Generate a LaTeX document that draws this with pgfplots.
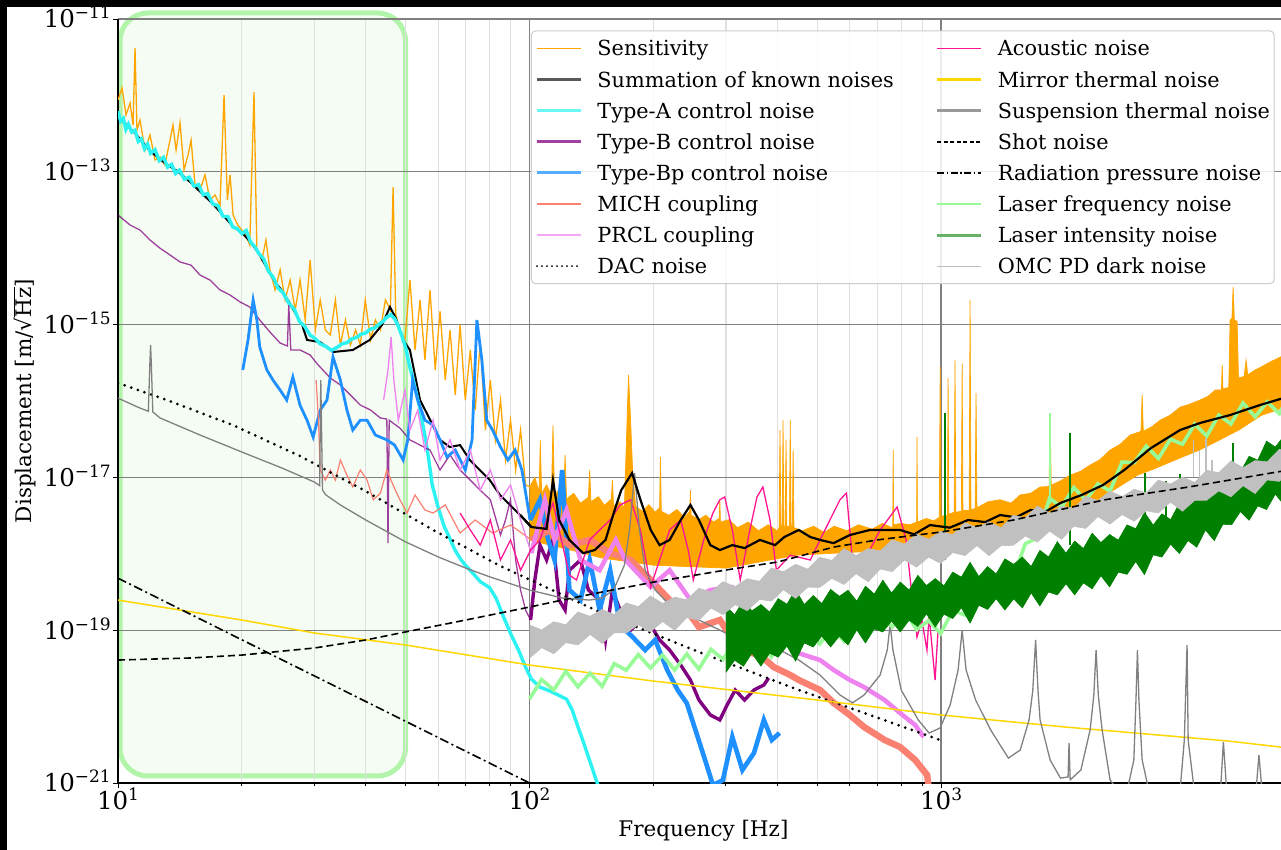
\documentclass[border=0pt]{standalone}
\usepackage{fontspec}
\setmainfont{DejaVu Serif}
\usepackage{pgfplots}
\pgfplotsset{compat=1.18}

\definecolor{sens}{HTML}{FFA500}
\definecolor{typeA}{HTML}{2CF2F2}
\definecolor{typeB}{HTML}{800080}
\definecolor{typeBp}{HTML}{1E90FF}
\definecolor{mich}{HTML}{FA8072}
\definecolor{prcl}{HTML}{EE82EE}
\definecolor{acou}{HTML}{FF1493}
\definecolor{mirror}{HTML}{FFD700}
\definecolor{susp}{HTML}{808080}
\definecolor{lfreq}{HTML}{98FB98}
\definecolor{lint}{HTML}{008000}
\definecolor{omc}{HTML}{C0C0C0}
\definecolor{boxline}{HTML}{B2F5AA}
\definecolor{boxfill}{HTML}{F5FCF3}

% power-of-ten tick labels in the text font
\newcommand{\ts}[1]{10\raisebox{9pt}{\fontsize{17}{17}\selectfont #1}}

\begin{document}
\begin{tikzpicture}
\useasboundingbox (0pt,0pt) rectangle (1281pt,850pt);
\fill[white] (0pt,0pt) rectangle (1281pt,850pt);
% highlighted low-frequency band
\draw[line width=5pt, draw=boxline, fill=boxfill, rounded corners=28pt]
  (120pt,74pt) rectangle (405.5pt,837pt);

\begin{axis}[
  at={(118pt,67pt)}, anchor=south west,
  scale only axis, width=1170.8pt, height=764pt,
  xmode=log, ymode=log,
  xmin=10, xmax=7000, ymin=1e-21, ymax=1e-11,
  axis x line*=bottom, axis y line*=left,
  axis line style={black, line width=1.5pt},
  xtick={10,100,1000},
  xticklabels={\ts{1},\ts{2},\ts{3}},
  ytick={1e-21,1e-19,1e-17,1e-15,1e-13,1e-11},
  yticklabels={\ts{−21},\ts{−19},\ts{−17},\ts{−15},\ts{−13},\ts{−11}},
  yminorticks=false,
  tick align=outside,
  major tick length=5pt, minor tick length=3pt,
  tick style={black, line width=1pt},
  tick label style={font=\fontsize{24.5}{28}\selectfont},
  xticklabel style={anchor=base, inner sep=0pt, yshift=-21pt},
  yticklabel style={anchor=base east, inner sep=0pt, xshift=-2pt, yshift=-8.9pt},
  xmajorgrids, xminorgrids, ymajorgrids,
  major grid style={black!50, line width=1.3pt},
  minor grid style={black!12, line width=1.2pt},
  xlabel={Frequency [Hz]},
  ylabel={Displacement [m/√$\overline{\mbox{Hz}}$]},
  label style={font=\fontsize{21.5}{25}\selectfont},
  xlabel style={at={(axis description cs:0.5,-0.0694)}, anchor=base},
  ylabel style={at={(axis description cs:-0.0743,0.5)}, anchor=base, rotate=0},
  legend columns=2,
  legend cell align=left,
  legend image code/.code={\draw[#1] (0pt,0pt) -- (44pt,0pt);},
  legend style={at={(0.3527,0.985)}, anchor=north west,
    draw=black!20, line width=1pt, fill=white, fill opacity=0.85,
    text opacity=1, draw opacity=1, rounded corners=4pt,
    inner xsep=4pt, inner ysep=8pt,
    font=\fontsize{20.8}{25}\selectfont, row sep=12.1pt,
    nodes={inner sep=0pt, text height=17pt, text depth=2pt},
    /tikz/every odd column/.append style={column sep=15pt},
    /tikz/every even column/.append style={column sep=42pt}},
]

% ---- legend (row by row, two columns) ----
\addlegendimage{sens, line width=1.6pt}\addlegendentry{Sensitivity}
\addlegendimage{acou, line width=1.6pt}\addlegendentry{Acoustic noise}
\addlegendimage{black!65, line width=3pt}\addlegendentry{Summation of known noises}
\addlegendimage{mirror, line width=3pt}\addlegendentry{Mirror thermal noise}
\addlegendimage{typeA!70!white, line width=3pt}\addlegendentry{Type-A control noise}
\addlegendimage{black!40, line width=3pt}\addlegendentry{Suspension thermal noise}
\addlegendimage{typeB!75!white, line width=3pt}\addlegendentry{Type-B control noise}
\addlegendimage{black, line width=1.5pt, dash pattern=on 4pt off 2.5pt}\addlegendentry{Shot noise}
\addlegendimage{typeBp!75!white, line width=3pt}\addlegendentry{Type-Bp control noise}
\addlegendimage{black, line width=1.5pt, dash pattern=on 7pt off 2.5pt on 1.5pt off 2.5pt}\addlegendentry{Radiation pressure noise}
\addlegendimage{mich, line width=1.6pt}\addlegendentry{MICH coupling}
\addlegendimage{lfreq, line width=2pt}\addlegendentry{Laser frequency noise}
\addlegendimage{prcl!70!white, line width=2.2pt}\addlegendentry{PRCL coupling}
\addlegendimage{lint!60!white, line width=3pt}\addlegendentry{Laser intensity noise}
\addlegendimage{black, line width=2pt, line cap=round, dash pattern=on 0pt off 5pt}\addlegendentry{DAC noise}
\addlegendimage{omc, line width=1.2pt}\addlegendentry{OMC PD dark noise}

% ---- sensitivity, below 100 Hz ----
\addplot[sens, line width=1.3pt, forget plot] coordinates {
(10,8.7e-13)(10.23,1.25e-12)(10.46,5.55e-13)(10.7,7.95e-13)(10.88,4.1e-13)(11.0,4.17e-12)(11.12,3.52e-13)(11.31,4.76e-13)(11.63,1.93e-13)(11.96,3.03e-13)(12.3,1.43e-13)(12.65,1.56e-13)(13.0,1.23e-13)(13.38,2.6e-13)(13.6,4.1e-13)(13.84,1.93e-13)(14.15,4.36e-13)(14.47,1.06e-13)(14.8,1.66e-13)(15.05,2.6e-13)(15.39,6.7e-14)(15.82,5.77e-14)(16.27,9.1e-14)(16.73,4.28e-14)(17.21,4.97e-14)(17.7,3.67e-14)(18.1,1.01e-12)(18.44,4.28e-14)(18.72,9.1e-14)(19.04,2.72e-14)(19.55,2.01e-14)(20.0,1.73e-14)(20.46,1.49e-14)(20.9,1.1e-14)(21.4,1.1e-12)(21.75,9.5e-15)(22.37,7.0e-15)(22.88,1.28e-14)(23.4,5.2e-15)(24.08,2.84e-15)(24.77,5.2e-15)(25.47,2.1e-15)(26.2,3.83e-15)(26.95,1.55e-15)(27.7,3.83e-15)(28.5,1.15e-15)(29.3,7.0e-15)(30.17,8.5e-16)(31.0,2.1e-15)(31.9,8.5e-16)(32.8,7.3e-16)(33.75,2.1e-15)(34.7,5.4e-16)(35.7,1.15e-15)(36.7,5.4e-16)(37.8,8.5e-16)(38.8,5.4e-16)(39.9,2.1e-15)(41.1,6.3e-16)(42.2,1.15e-15)(43.4,8.5e-16)(44.65,2.1e-15)(45.9,1.55e-15)(46.6,6.3e-14)(47.3,1.34e-15)(48.4,8.5e-16)(49.8,6.3e-16)(51.2,3.83e-15)(52.7,4.65e-16)(54.2,2.1e-15)(55.7,3.44e-16)(57.3,2.84e-15)(59.0,2.55e-16)(60.6,1.5e-15)(62.4,1.88e-16)(64.1,8.5e-16)(66.0,1.2e-16)(67.8,1.0e-15)(69.8,1.03e-16)(71.8,4.65e-16)(73.8,7.6e-17)(75.9,6.0e-16)(78.1,4.17e-17)(80.3,1.88e-16)(82.6,3.1e-17)(85.0,1.03e-16)(87.4,1.69e-17)(89.9,5.6e-17)(92.5,1.25e-17)(95.1,4.17e-17)(97.8,7.95e-18)(100.6,7.5e-18)};

% ---- sensitivity, above 100 Hz (dense spectrum as a band) ----
\addplot[fill=sens, draw=sens, line width=0.7pt, forget plot] coordinates {
(100,7.5e-18)(103,1.0e-17)(105.5,6.5e-18)(106.2,3.1e-17)(107,6.2e-18)(110,8e-18)(113,5.8e-18)(114,4.8e-17)(115,5.8e-18)(118,7e-18)(121,5.2e-18)(122,1.97e-17)(123,5.2e-18)(128,6.2e-18)(133,4.6e-18)(139,5.5e-18)(140,1.25e-17)(141,4.8e-18)(147,5.6e-18)(152,4.3e-18)(158,5.2e-18)(159,9.2e-18)(160,4.2e-18)(166,4.8e-18)(170,4.0e-18)(172,3.1e-17)(174,2.2e-16)(176,5.6e-17)(178,1.25e-17)(181,4.2e-18)(188,3.6e-18)(195,4.4e-18)(202,3.5e-18)(207,4.0e-18)(208,1.85e-17)(209,3.6e-18)(218,3.2e-18)(228,3.8e-18)(238,3.0e-18)(245,3.6e-18)(246,6.8e-18)(247,3.2e-18)(258,2.8e-18)(268,3.2e-18)(280,2.6e-18)(289,2.9e-18)(290,5.1e-18)(291,2.6e-18)(305,2.8e-18)(320,2.2e-18)(340,2.6e-18)(360,2.0e-18)(380,2.4e-18)(400,2.0e-18)(404,2.2e-18)(406,4.2e-17)(408,2.4e-18)(411,2.3e-18)(413,5.6e-17)(415,2.3e-18)(418,2.3e-18)(420,3.1e-17)(422,2.3e-18)(428,2.3e-18)(430,5.6e-17)(432,2.3e-18)(435,2.3e-18)(437,2.3e-17)(439,2.2e-18)(460,2.0e-18)(490,2.3e-18)(520,1.9e-18)(550,2.3e-18)(590,2.0e-18)(630,2.4e-18)(680,2.1e-18)(720,2.5e-18)(760,2.2e-18)(763,2.2e-18)(765,2.3e-17)(767,2.4e-18)(800,2.5e-18)(840,2.4e-18)(872,2.6e-18)(874,3.4e-17)(876,2.6e-18)(920,2.9e-18)(960,2.7e-18)(990,3.0e-18)(995,2.8e-16)(1000,3.1e-18)(1036,3.2e-18)(1040,2.0e-16)(1044,3.3e-18)(1076,3.5e-18)(1081,3.4e-16)(1086,3.5e-18)(1120,3.6e-18)(1125,3.1e-16)(1130,3.7e-18)(1170,3.7e-18)(1176,2.1e-15)(1182,3.8e-18)(1210,3.9e-18)(1216,1.27e-16)(1222,4.0e-18)(1300,4.8e-18)(1391,5.1e-18)(1480,4.6e-18)(1556,5.9e-18)(1650,6.2e-18)(1740,7.5e-18)(1830,7.6e-18)(1841,6.95e-17)(1852,7.9e-18)(1950,9e-18)(2059,1.07e-17)(2180,1.2e-17)(2302,1.45e-17)(2430,1.7e-17)(2574,2.28e-17)(2720,2.7e-17)(2880,3.59e-17)(3060,4.0e-17)(3080,1.2e-16)(3100,4.0e-17)(3250,4.6e-17)(3406,5.6e-17)(3600,6.5e-17)(3809,8.3e-17)(4000,9e-17)(4260,1.03e-16)(4450,1.15e-16)(4634,1.39e-16)(4800,1.4e-16)(4819,2.96e-16)(4840,1.45e-16)(5000,1.5e-16)(5038,1.15e-15)(5090,1.2e-15)(5124,3.1e-15)(5160,1.15e-15)(5240,1.1e-15)(5280,2.0e-16)(5450,2.1e-16)(5510,3.44e-16)(5560,2.2e-16)(5796,2.55e-16)(6000,2.8e-16)(6304,3.24e-16)(6700,3.8e-16)(7048,4.38e-16)
(7048,8.9e-17)(6500,7.5e-17)(6000,6.5e-17)(5300,4.2e-17)(4700,3.0e-17)(4260,2.3e-17)(3809,1.8e-17)(3300,1.3e-17)(3000,1.07e-17)(2700,7.5e-18)(2302,4.4e-18)(2059,2.4e-18)(1740,1.9e-18)(1391,1.6e-18)(1000,1.3e-18)(636,1.06e-18)(446,9.6e-19)(300,6.5e-19)(200,7.1e-19)(150,8.8e-19)(120,1.2e-18)(100,1.5e-18)};

% ---- summation of known noises, low frequencies ----
\addplot[black, line width=2pt, forget plot] coordinates {
(10,5.3e-13)(11,3.2e-13)(12,1.85e-13)(13,1.3e-13)(14,1.0e-13)(15,7.3e-14)(16,5.2e-14)(17,3.8e-14)(18,2.7e-14)(19,1.95e-14)(20,1.6e-14)(21,1.2e-14)(22,8.5e-15)(23,5.5e-15)(24,3.7e-15)(25,2.8e-15)(26,2.0e-15)(27,1.4e-15)(28,1.0e-15)(28.8,6.3e-16)(31,5.9e-16)(33.3,4.38e-16)(37.2,4.65e-16)(40.9,6.3e-16)(43.8,9.9e-16)(45.8,1.7e-15)(47.3,1.22e-15)(49.3,6.3e-16)(51.2,4.65e-16)(54.2,1.03e-16)(57.4,5.6e-17)(60.6,3.1e-17)(64,2.5e-17)(67.8,2.65e-17)(71.6,1.69e-17)(75.7,1.25e-17)(80.1,9.2e-18)(84.7,5.9e-18)(89.6,4.36e-18)(94.8,3.22e-18)(101,2.24e-18)};

% ---- Type-A control noise ----
\addplot[typeA, line width=3.4pt, forget plot] coordinates {
(10,6.2e-13)(10.15,4.6e-13)(10.3,5.0e-13)(10.45,3.6e-13)(10.6,4.2e-13)(10.8,3.3e-13)(11.0,3.5e-13)(11.2,2.5e-13)(11.4,2.7e-13)(11.6,2.0e-13)(11.8,2.3e-13)(12.0,1.75e-13)(12.3,1.95e-13)(12.6,1.4e-13)(12.9,1.55e-13)(13.2,1.15e-13)(13.5,1.25e-13)(13.8,9.5e-14)(14.1,1.05e-13)(14.5,8e-14)(14.9,8.5e-14)(15.3,6.5e-14)(15.7,6.8e-14)(16.1,5e-14)(16.5,5.2e-14)(17.0,3.8e-14)(17.5,3.6e-14)(18.0,2.6e-14)(18.5,2.6e-14)(19.0,1.9e-14)(19.5,1.8e-14)(20.0,1.55e-14)(20.5,1.7e-14)(21.0,1.2e-14)(21.5,1.05e-14)(22.0,8.5e-15)(22.6,7.2e-15)(23.2,5e-15)(23.8,4.2e-15)(24.5,3.0e-15)(25.2,2.6e-15)(26.0,1.9e-15)(26.8,1.6e-15)(27.6,1.1e-15)(28.4,9.5e-16)(29.3,7.3e-16)(30.2,6.5e-16)(31.0,5.6e-16)(32,5.2e-16)(33,4.6e-16)(34,5.0e-16)(35,5.6e-16)(36,5.8e-16)(37,6.5e-16)(38,6.8e-16)(39,7.5e-16)(40,7.8e-16)(41,8.7e-16)(42,9.0e-16)(43,1.0e-15)(44,1.1e-15)(45,1.25e-15)(46,1.35e-15)(47,1.2e-15)(48,9.5e-16)(49,7e-16)(50,5e-16)(51,3e-16)(52,2e-16)(53,1.3e-16)(54,8.5e-17)(55,5e-17)(56,3e-17)(57,1.6e-17)(58,8e-18)(60,4e-18)(62,2.3e-18)(64,1.6e-18)(66,1.1e-18)(68,8.5e-19)(70,7e-19)(73,5.5e-19)(76,4.3e-19)(80,3.6e-19)(83,2.6e-19)(86,1.6e-19)(90,9e-20)(94,5.5e-20)(98,3.2e-20)(101,2.3e-20)(106,1.8e-20)(112,1.6e-20)(118,1.4e-20)(123,1.25e-20)(127,9e-21)(131,5.5e-21)(135,3.5e-21)(139,2.2e-21)(143,1.4e-21)(147,9e-22)(151,6e-22)};

% ---- Type-B control noise ----
\addplot[typeB, opacity=0.75, line width=1.3pt, forget plot] coordinates {
(10,2.72e-14)(10.7,2.01e-14)(11.31,1.73e-14)(11.96,1.28e-14)(12.65,1.0e-14)(13.38,8.15e-15)(14.15,6.6e-15)(15.05,6.0e-15)(15.82,4.46e-15)(16.73,3.83e-15)(17.7,2.84e-15)(18.72,2.44e-15)(19.8,1.98e-15)(20.9,1.7e-15)(22.1,1.15e-15)(23.4,8e-16)(24.77,5.74e-16)(25.8,5.25e-16)(26.0,1.8e-15)(26.3,4.65e-16)(27.7,4.65e-16)(29.3,4.0e-16)(30.5,3.05e-16)(32.8,2.0e-16)(34.7,1.62e-16)(36.7,1.2e-16)(38.8,8.86e-17)(41.1,7.6e-17)(43.4,6e-17)(45.0,5.8e-17)(45.3,1.38e-18)(45.6,5.6e-17)(48.4,4.43e-17)(51.2,3.1e-17)(54.2,2.65e-17)(57.3,2.28e-17)(60.6,1.25e-17)(64.1,1.97e-17)(67.8,1.25e-17)(71.8,9.2e-18)(75.9,6.8e-18)(80.3,5.1e-18)(85,1.76e-18)(87.4,2.77e-18)(89.9,5.1e-18)(92.5,8.3e-19)(95.1,3.36e-19)(97.8,1.84e-19)(100.6,1.36e-19)};
\addplot[typeB, line width=3.4pt, forget plot] coordinates {
(100.6,1.36e-19)(103,4.54e-19)(106,1.3e-18)(110,8.3e-19)(114,1.52e-18)(118,2.48e-19)(122,1.84e-19)(125,6.1e-19)(133,8.3e-19)(139,3.36e-19)(148,2.48e-19)(153,7.45e-20)(159,3.36e-19)(166,1.84e-19)(176,1.0e-19)(186,1.36e-19)(197,1.17e-19)(207,7.45e-20)(219,5.5e-20)(233,3.5e-20)(246,2.23e-20)(258,1.22e-20)(275,7.77e-21)(290,6.7e-21)(302,1.05e-20)(316,1.65e-20)(333,1.22e-20)(351,1.65e-20)(371,1.92e-20)(381,2.37e-20)};

% ---- Type-Bp control noise ----
\addplot[typeBp, line width=2.8pt, forget plot] coordinates {
(20.1,2.55e-16)(20.7,6.3e-16)(21.3,2.1e-15)(21.75,1.15e-15)(22.1,5.1e-16)(23.0,2.55e-16)(23.8,1.88e-16)(24.77,1.39e-16)(25.7,1.03e-16)(26.6,2.06e-16)(27.7,8.76e-17)(28.8,5.6e-17)(29.8,3.38e-17)(31.0,7.6e-17)(32.2,1.03e-16)(33.3,3.77e-16)(34.7,1.88e-16)(36.0,7.6e-17)(37.2,4.17e-17)(38.8,5.6e-17)(40.3,5.6e-17)(42.2,3.59e-17)(45.0,3.1e-17)(47.0,2.65e-17)(49.3,1.69e-17)(50.6,3.1e-17)(52.0,1.88e-16)(53.5,1.03e-16)(55.7,5.6e-17)(58.3,4.85e-17)(60.6,3.1e-17)(63.0,1.85e-17)(66.0,2.28e-17)(69.8,1.25e-17)(72.5,3.1e-17)(74.5,1.15e-15)(76.6,3.44e-16)(78.7,5.6e-17)(81.3,4.17e-17)(85.0,2.5e-17)(88.6,1.69e-17)(92.2,2.28e-17)(95.8,1.25e-17)(100.3,2.77e-18)};
\addplot[typeBp, line width=4.6pt, forget plot] coordinates {
(100.3,2.77e-18)(106,5.1e-18)(111,1.52e-18)(115,8.3e-19)(120,1.25e-17)(125,3.36e-19)(133,2.48e-19)(140,8.3e-19)(148,1.84e-19)(157,6.1e-19)(166,1.17e-19)(178,8.15e-20)(191,5.5e-20)(202,7.45e-20)(216,3.02e-20)(229,1.65e-20)(241,1.11e-20)(253,4.94e-21)(267,2.0e-21)(279,9.4e-22)(295,1.09e-21)(311,4.0e-21)(329,1.48e-21)(351,2.47e-21)(371,6.7e-21)(388,3.66e-21)(405,4.51e-21)};

% ---- MICH coupling ----
\addplot[mich, line width=1.2pt, forget plot] coordinates {
(30.3,1.88e-16)(30.7,5.6e-17)(31.0,1.25e-17)(31.9,9.2e-18)(32.8,1.25e-17)(33.75,9.2e-18)(34.7,1.69e-17)(36.0,1.07e-17)(37.2,7.5e-18)(38.8,1.25e-17)(40.3,9.2e-18)(41.7,5.1e-18)(43.4,6.2e-18)(45.0,1.25e-17)(46.6,7.95e-18)(48.4,5.1e-18)(50.4,3.42e-18)(52.7,5.9e-18)(55.7,3.74e-18)(58.3,3.42e-18)(62.4,4.36e-18)(67.8,1.87e-18)(73.8,2.77e-18)(81.3,1.87e-18)(89.9,2.38e-18)(101,1.52e-18)};
\addplot[mich, line width=6.5pt, forget plot] coordinates {
(101,1.52e-18)(112,2.05e-18)(125,1.3e-18)(140,1.52e-18)(157,1.02e-18)(176,8.3e-19)(197,4.54e-19)(219,2.48e-19)(246,1.57e-19)(258,1.1e-19)(290,1.36e-19)(325,5.5e-20)(363,4.73e-20)(392,3.3e-20)(430,2.59e-20)(451,2.23e-20)(508,1.65e-20)(548,1.12e-20)(600,7.77e-21)(650,5.41e-21)(729,3.66e-21)(795,2.96e-21)(865,2.0e-21)(925,1.27e-21)(935,8e-22)};

% ---- PRCL coupling ----
\addplot[prcl, line width=1.3pt, forget plot] coordinates {
(44.2,1.03e-16)(45.3,2.55e-16)(46.1,6.88e-16)(46.8,1.88e-16)(48.0,5.6e-17)(49.8,1.39e-16)(51.2,4.17e-17)(53.5,7.6e-17)(55.7,2.28e-17)(58.3,5.6e-17)(60.6,1.69e-17)(64.1,3.1e-17)(67.8,1.25e-17)(71.8,2.28e-17)(75.9,6.8e-18)(80.3,1.25e-17)(85,5.1e-18)(89.9,7.95e-18)(95.1,2.77e-18)(101,1.02e-18)};
\addplot[prcl, line width=4.5pt, forget plot] coordinates {
(101,1.02e-18)(109,5.1e-18)(115,1.52e-18)(123,3.74e-18)(133,8.3e-19)(148,6.1e-19)(162,1.52e-18)(171,8.3e-19)(197,3.67e-19)(219,6.1e-19)(246,2.48e-19)(275,3.36e-19)(311,3.67e-19)(346,1.36e-19)(384,7.45e-20)(430,8.7e-20)(451,5.0e-20)(508,4.07e-20)(548,3.02e-20)(600,2.23e-20)(650,1.8e-20)(729,1.22e-20)(795,8.25e-21)(865,5.74e-21)(907,4.0e-21)};

% ---- DAC noise ----
\addplot[black, line width=3pt, line cap=round, dash pattern=on 0pt off 7pt, forget plot] coordinates {
(10,1.72e-16)(13.15,1.03e-16)(19.0,4.85e-17)(27.7,1.9e-17)(40.3,6.45e-18)(58.3,2.05e-18)(85,6.9e-19)(148,1.73e-19)(258,5.18e-20)(451,1.65e-20)(672,7.77e-21)(994,3.66e-21)};

% ---- acoustic noise ----
\addplot[acou, line width=1.3pt, forget plot] coordinates {
(67.8,3.42e-18)(71.8,2.05e-18)(75.9,1.3e-18)(80.3,2.77e-18)(85,8.3e-19)(89.9,1.52e-18)(95.1,6.1e-19)(100.6,1.12e-18)(106,1.52e-18)(110,2.77e-18)(114,4.63e-18)(118,2.05e-18)(125,5.28e-19)(130,4.54e-19)(140,1.52e-18)(148,2.05e-18)(157,2.77e-18)(166,4.36e-18)(176,5.1e-18)(186,2.05e-18)(197,3.67e-19)(207,8.3e-19)(219,2.05e-18)(233,2.77e-18)(243,1.12e-18)(250,4.54e-19)(265,1.52e-18)(279,3.42e-18)(290,5.1e-18)(298,5.54e-18)(311,2.05e-18)(325,4.54e-19)(343,2.05e-18)(357,5.54e-18)(369,7.5e-18)(384,2.77e-18)(398,6.1e-19)(430,9.6e-19)(481,8.3e-19)(522,2.05e-18)(568,5.1e-18)(589,6.25e-18)(609,8.3e-19)(652,8.3e-19)(711,2.05e-18)(782,4.1e-18)(822,1.52e-18)(852,2.48e-19)(874,8.15e-20)(898,1.36e-19)(924,5.5e-20)(935,1.57e-19)(967,2.23e-20)(983,1.0e-19)};

% ---- mirror thermal noise ----
\addplot[mirror, line width=1.5pt, forget plot] coordinates {
(10,2.48e-19)(20,1.36e-19)(30,9.2e-20)(50,6.4e-20)(100,3.5e-20)(200,2.16e-20)(500,1.22e-20)(1000,7.77e-21)(2000,5.41e-21)(5000,3.54e-21)(7000,2.87e-21)};

% ---- suspension thermal noise ----
\addplot[susp, line width=1.3pt, forget plot] coordinates {
(10,1.09e-16)(11.3,8.1e-17)(11.85,7.35e-17)(11.95,3e-16)(12.0,5.41e-16)(12.05,3e-16)(12.15,7.2e-17)(12.65,6.0e-17)(15.82,3.59e-17)(20,2.15e-17)(25,1.33e-17)(30,8.7e-18)(30.9,7.8e-18)(31.1,1.88e-16)(31.4,6.8e-18)(32,5.9e-18)(34.7,4.36e-18)(40,2.77e-18)(50,1.43e-18)(60,9.1e-19)(70,6.5e-19)(80,5e-19)(100,3.36e-19)(120,2.64e-19)(140,2.48e-19)(150,2.64e-19)(160,3.36e-19)(170,7.1e-19)(175,2.05e-18)(180,1.14e-17)(185,2.05e-18)(191,6.1e-19)(202,3.36e-19)(219,2.14e-19)(258,1.36e-19)(325,7.45e-20)(406,5.5e-20)(451,4.07e-20)(508,2.59e-20)(568,1.42e-20)(609,1.12e-20)(650,1.42e-20)(711,2.59e-20)(740,5.5e-20)(752,1.2e-19)(764,5.5e-20)(800,1.65e-20)(880,6.7e-21)(935,4.51e-21)(994,5.25e-21)(1052,1.05e-20)(1100,3.02e-20)(1125,1.0e-19)(1150,3.02e-20)(1213,1.22e-20)(1320,4.94e-21)(1457,2.12e-21)(1557,2.7e-21)(1636,6.7e-21)(1670,1.6e-20)(1697,7.45e-20)(1720,1.6e-20)(1740,6.7e-21)(1841,2.0e-21)(1950,1.16e-21)(2035,1.2e-21)(2046,3.34e-21)(2059,1.1e-21)(2186,1.48e-21)(2302,4.94e-21)(2350,1.4e-20)(2380,5.5e-20)(2410,1.4e-20)(2462,4.94e-21)(2574,1.1e-21)(2800,6e-22)(2940,2.0e-21)(2975,1.2e-20)(3000,5.5e-20)(3025,1.2e-20)(3080,2.0e-21)(3235,6e-22)(3809,8e-22)(3900,3.66e-21)(3960,6.4e-20)(3985,3.66e-21)(4150,6e-22)(4760,6e-22)(4852,3.44e-21)(4960,6e-22)(5800,6e-22)(5920,2.33e-21)(6050,6e-22)(7048,6e-22)};

% ---- radiation pressure noise ----
\addplot[black, line width=1.6pt, dash pattern=on 9pt off 3.5pt on 2pt off 3.5pt, forget plot] coordinates {
(10,4.8e-19)(100,1e-21)};

% ---- laser frequency noise ----
\addplot[lfreq, line width=3.6pt, forget plot] coordinates {
(100,1.26e-20)(107,2.26e-20)(114.5,1.65e-20)(122.5,2.9e-20)(131.1,1.82e-20)(140.3,2.74e-20)(150.1,1.84e-20)(160.6,3.64e-20)(171.8,3.0e-20)(183.8,4.8e-20)(196.7,3.2e-20)(210.5,4.73e-20)(225.2,3.01e-20)(241,4.88e-20)(257.9,3.1e-20)(275.9,5.62e-20)(295.2,4.16e-20)(315.9,7.38e-20)(338,4.62e-20)(361.7,6.84e-20)(387,4.48e-20)(414.1,8.45e-20)(443.1,6.63e-20)(474.1,1.02e-19)(507.2,6.63e-20)(542.7,1.06e-19)(580.7,7.19e-20)(621.4,1.24e-19)(664.9,8.45e-20)(711.4,1.52e-19)(761.2,1.11e-19)(814.5,1.85e-19)(871.5,1.02e-19)(932.5,1.33e-19)(997.8,9.06e-20)(1067.7,1.82e-19)(1142.4,1.58e-19)(1222.4,2.81e-19)(1308,2.2e-19)(1399.5,4.77e-19)(1497.4,4.89e-19)(1602.3,1.36e-18)(1714.4,1.61e-18)(1834.4,5.34e-18)(1962.8,4.09e-18)(2100.2,7.38e-18)(2247.2,5.03e-18)(2404.5,8.22e-18)(2572.9,6.65e-18)(2753,1.59e-17)(2945.7,1.56e-17)(3151.9,2.57e-17)(3372.5,1.77e-17)(3608.6,3.16e-17)(3861.2,2.72e-17)(4131.5,5.0e-17)(4420.7,3.49e-17)(4730.1,6.56e-17)(5061.2,5.0e-17)(5415.5,9.41e-17)(5794.6,6.2e-17)(6200.2,9.77e-17)(6634.2,6.82e-17)(7098.6,1.37e-16)};
\addplot[lfreq, line width=1.6pt, forget plot] coordinates {(1841,4.5e-18)(1841,6.95e-17)};

% ---- laser intensity noise (band) ----
\addplot[fill=lint, draw=lint, line width=0.6pt, forget plot] coordinates {
(300,2.07e-19)(315,1.59e-19)(331,2.46e-19)(347,1.79e-19)(365,2.17e-19)(383,1.73e-19)(402,2.59e-19)(422,2.19e-19)(443,3.39e-19)(465,2.17e-19)(489,2.85e-19)(513,2.24e-19)(539,3.42e-19)(566,2.78e-19)(594,3.33e-19)(624,2.4e-19)(655,3.77e-19)(688,2.97e-19)(722,4.52e-19)(758,3.07e-19)(796,4.27e-19)(836,3.35e-19)(878,5.23e-19)(921,3.84e-19)(968,4.74e-19)(1016,3.81e-19)(1067,5.77e-19)(1120,4.95e-19)(1176,7.75e-19)(1235,5.04e-19)(1297,6.81e-19)(1361,5.46e-19)(1429,8.6e-19)(1501,7.29e-19)(1576,9.07e-19)(1655,6.81e-19)(1738,1.11e-18)(1824,9.1e-19)(1916,1.44e-18)(2011,1.02e-18)(2112,1.47e-18)(2217,1.17e-18)(2328,1.86e-18)(2445,1.4e-18)(2567,1.79e-18)(2695,1.51e-18)(2830,2.39e-18)(2972,2.13e-18)(3120,3.48e-18)(3276,2.37e-18)(3440,3.34e-18)(3612,2.8e-18)(3793,4.58e-18)(3982,4.29e-18)(4181,5.98e-18)(4390,5.0e-18)(4610,9.12e-18)(4840,8.37e-18)(5082,1.49e-17)(5336,1.17e-17)(5603,1.89e-17)(5883,1.68e-17)(6178,2.98e-17)(6487,2.5e-17)(6811,3.48e-17)(7151,3.18e-17)
(7151,6.94e-18)(6811,4.38e-18)(6487,6.04e-18)(6178,3.8e-18)(5883,4.24e-18)(5603,2.75e-18)(5336,3.58e-18)(5082,2.4e-18)(4840,2.44e-18)(4610,1.49e-18)(4390,2.05e-18)(4181,1.22e-18)(3982,1.49e-18)(3793,1.01e-18)(3612,1.34e-18)(3440,9.07e-19)(3276,9.7e-19)(3120,5.34e-19)(2972,7.93e-19)(2830,5.39e-19)(2695,5.76e-19)(2567,3.69e-19)(2445,5.17e-19)(2328,3.48e-19)(2217,4.17e-19)(2112,2.9e-19)(2011,4.05e-19)(1916,2.9e-19)(1824,3.17e-19)(1738,2.08e-19)(1655,3.08e-19)(1576,1.96e-19)(1501,2.57e-19)(1429,1.84e-19)(1361,2.58e-19)(1297,1.87e-19)(1235,2.12e-19)(1176,1.24e-19)(1120,1.97e-19)(1067,1.42e-19)(1016,1.62e-19)(968,1.1e-19)(921,1.64e-19)(878,1.12e-19)(836,1.35e-19)(796,9.49e-20)(758,1.32e-19)(722,9.49e-20)(688,1.04e-19)(655,6.81e-20)(624,1.01e-19)(594,6.41e-20)(566,8.39e-20)(539,6.03e-20)(513,8.39e-20)(489,6.03e-20)(465,6.81e-20)(443,3.95e-20)(422,6.2e-20)(402,4.44e-20)(383,5.01e-20)(365,3.39e-20)(347,5.0e-20)(331,3.38e-20)(315,4.04e-20)(300,2.81e-20)};
\addplot[lint, line width=1.6pt, forget plot] coordinates {(1021,8.3e-19)(1021,6.95e-17)};
\addplot[lint, line width=1.6pt, forget plot] coordinates {(2059,1.3e-18)(2059,3.8e-17)};
\addplot[lint, line width=1.6pt, forget plot] coordinates {(5124,3.4e-18)(5124,2.8e-17)};
\addplot[lint, line width=1.6pt, forget plot] coordinates {(3125,1.6e-18)(3125,1.14e-17)};
\addplot[lint, line width=1.6pt, forget plot] coordinates {(3520,2.0e-18)(3520,9e-18)};
\addplot[lint, line width=1.6pt, forget plot] coordinates {(3809,2.2e-18)(3809,1.1e-17)};

% ---- summation of known noises, above 100 Hz ----
\addplot[black, line width=2.2pt, forget plot] coordinates {
(95,3.22e-18)(101,2.24e-18)(110,2.12e-18)(114,9.2e-18)(118,2.77e-18)(125,1.52e-18)(135,1.02e-18)(144,1.12e-18)(153,1.52e-18)(161,3.74e-18)(167,6.8e-18)(177.5,1.14e-17)(186,5.1e-18)(197,2.05e-18)(207,1.3e-18)(219,1.52e-18)(233,2.77e-18)(246,4.36e-18)(258,2.77e-18)(275,1.3e-18)(290,1.12e-18)(311,1.3e-18)(333,1.19e-18)(363,1.52e-18)(395,1.3e-18)(416,1.66e-18)(451,2.05e-18)(481,1.66e-18)(508,1.52e-18)(548,1.38e-18)(600,1.76e-18)(671,2.05e-18)(795,2.05e-18)(860,1.8e-18)(940,2.38e-18)(1050,2.2e-18)(1163,2.77e-18)(1280,2.6e-18)(1391,3.22e-18)(1520,3.0e-18)(1648,3.74e-18)(1800,3.6e-18)(1950,4.63e-18)(2197,5.9e-18)(2474,7.95e-18)(2787,1.25e-17)(3235,2.42e-17)(3809,4.17e-17)(4260,5.16e-17)(5038,6.55e-17)(5956,8.86e-17)(7048,1.16e-16)};

% ---- OMC PD dark noise (band) ----
\addplot[fill=omc, draw=omc, line width=0.6pt, forget plot] coordinates {
(100,1.17e-19)(107,1.01e-19)(114.5,1.29e-19)(122.5,1.18e-19)(131.1,1.73e-19)(140.3,1.52e-19)(150.1,1.87e-19)(160.6,1.6e-19)(171.8,2.28e-19)(183.8,2.03e-19)(196.7,2.81e-19)(210.5,2.24e-19)(225.2,2.71e-19)(241,2.5e-19)(257.9,3.54e-19)(275.9,3.16e-19)(295.2,4.32e-19)(315.9,3.72e-19)(338,4.72e-19)(361.7,4.36e-19)(387,6.52e-19)(414.1,5.83e-19)(443.1,7.29e-19)(474.1,6.29e-19)(507.2,8.99e-19)(542.7,8.2e-19)(580.7,1.17e-18)(621.4,9.49e-19)(664.9,1.17e-18)(711.4,1.09e-18)(761.2,1.53e-18)(814.5,1.34e-18)(871.5,1.82e-18)(932.5,1.55e-18)(997.8,1.97e-18)(1067.7,1.78e-18)(1142.4,2.56e-18)(1222.4,2.19e-18)(1308,2.62e-18)(1399.5,2.19e-18)(1497.4,3.19e-18)(1602.3,2.95e-18)(1714.4,4.22e-18)(1834.4,3.41e-18)(1962.8,4.2e-18)(2100.2,3.94e-18)(2247.2,5.63e-18)(2404.5,4.98e-18)(2572.9,6.63e-18)(2753,5.6e-18)(2945.7,7.0e-18)(3151.9,6.29e-18)(3372.5,9.23e-18)(3608.6,8.17e-18)(3861.2,1.01e-17)(4131.5,8.6e-18)(4420.7,1.24e-17)(4730.1,1.15e-17)(5061.2,1.65e-17)(5415.5,1.34e-17)(5794.6,1.66e-17)(6200.2,1.6e-17)(6634.2,2.33e-17)(7098.6,2.11e-17)
(7098.6,1.3e-17)(6634.2,8.88e-18)(6200.2,9.27e-18)(5794.6,6.16e-18)(5415.5,7.79e-18)(5061.2,5.57e-18)(4730.1,6.67e-18)(4420.7,5.03e-18)(4131.5,5.01e-18)(3861.2,3.61e-18)(3608.6,4.75e-18)(3372.5,3.42e-18)(3151.9,3.66e-18)(2945.7,2.67e-18)(2753,3.26e-18)(2572.9,2.45e-18)(2404.5,3.08e-18)(2247.2,2.15e-18)(2100.2,2.29e-18)(1962.8,1.55e-18)(1834.4,1.98e-18)(1714.4,1.43e-18)(1602.3,1.71e-18)(1497.4,1.29e-18)(1399.5,1.28e-18)(1308,9.46e-19)(1222.4,1.28e-18)(1142.4,9.49e-19)(1067.7,1.04e-18)(997.8,7.51e-19)(932.5,9.04e-19)(871.5,6.7e-19)(814.5,8.3e-19)(761.2,5.86e-19)(711.4,6.32e-19)(664.9,4.31e-19)(621.4,5.5e-19)(580.7,3.97e-19)(542.7,4.77e-19)(507.2,3.64e-19)(474.1,3.66e-19)(443.1,2.61e-19)(414.1,3.39e-19)(387,2.41e-19)(361.7,2.53e-19)(338,1.8e-19)(315.9,2.16e-19)(295.2,1.6e-19)(275.9,1.95e-19)(257.9,1.35e-19)(241,1.46e-19)(225.2,1.0e-19)(210.5,1.3e-19)(196.7,9.51e-20)(183.8,1.18e-19)(171.8,9.21e-20)(160.6,9.27e-20)(150.1,6.7e-20)(140.3,8.83e-20)(131.1,6.41e-20)(122.5,6.87e-20)(114.5,4.92e-20)(107,5.9e-20)(100,4.32e-20)};
\addplot[omc, line width=1.4pt, forget plot] coordinates {(4100,1e-17)(4100,3.1e-17)};
\addplot[omc, line width=1.4pt, forget plot] coordinates {(4250,1e-17)(4250,2.28e-17)};
\addplot[omc, line width=1.4pt, forget plot] coordinates {(4400,1.1e-17)(4400,3.3e-17)};
\addplot[omc, line width=1.4pt, forget plot] coordinates {(4550,1.1e-17)(4550,1.7e-17)};

% ---- shot noise ----
\addplot[black, line width=1.6pt, dash pattern=on 7pt off 4pt, forget plot] coordinates {
(10,4.07e-20)(15,4.33e-20)(20,4.73e-20)(30,5.85e-20)(40,7.45e-20)(50,9.5e-20)(70,1.36e-19)(100,2.01e-19)(120,2.48e-19)(150,3.16e-19)(200,4.26e-19)(300,6.14e-19)(400,7.8e-19)(550,1.23e-18)(700,1.52e-18)(1000,1.93e-18)(1500,2.77e-18)(2500,5.1e-18)(4000,7.5e-18)(7000,1.25e-17)};

\end{axis}
\fill[black] (0pt,843pt) rectangle (1281pt,850pt);
\fill[black] (0pt,0pt) rectangle (7pt,850pt);
\end{tikzpicture}
\end{document}
